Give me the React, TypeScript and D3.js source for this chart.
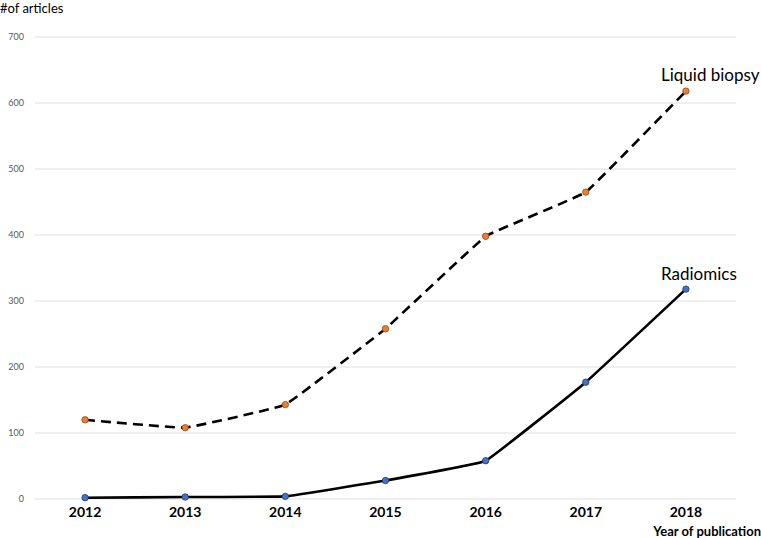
import React from 'react'
import * as d3 from 'd3'

const years = ['2012', '2013', '2014', '2015', '2016', '2017', '2018']
const liquidBiopsy = [120, 108, 143, 258, 398, 465, 618]
const radiomics = [2, 3, 4, 28, 58, 177, 318]
const yTicks = [0, 100, 200, 300, 400, 500, 600, 700]

const W = 761
const H = 538
const font = 'Lato, "Open Sans", sans-serif'

export default function App() {
  const x = d3.scaleBand().domain(years).range([35, 736])
  const y = d3.scaleLinear().domain([0, 700]).range([499, 37])
  const cx = (d: string) => (x(d) as number) + x.bandwidth() / 2

  // the original lines are only lightly smoothed, straight segments read closer
  const line = d3
    .line<number>()
    .x((_, i) => cx(years[i]))
    .y(d => y(d))
    .curve(d3.curveCardinal.tension(0.8))

  return (
    <svg width={W} height={H} style={{ position: 'absolute', left: 0, top: 0, background: '#fff' }}>
      {yTicks.map(t => (
        <g key={t}>
          <line x1={35} x2={736} y1={y(t)} y2={y(t)} stroke="#e0e0e0" strokeWidth={1} />
          <text x={24} y={y(t)} dy="0.35em" textAnchor="end" fontSize={9} fill="#595959" fontFamily={font}>
            {t}
          </text>
        </g>
      ))}
      {years.map(yr => (
        <text key={yr} x={cx(yr)} y={517} textAnchor="middle" fontSize={14} fontWeight="bold" fill="#000" fontFamily={font}>
          {yr}
        </text>
      ))}
      <text x={0} y={13} fontSize={13} fontFamily={font} fill="#000">#of articles</text>
      <text x={761} y={536} textAnchor="end" fontSize={13} fontWeight="bold" fontFamily={font} fill="#000">
        Year of publication
      </text>

      <path d={line(liquidBiopsy) || ''} fill="none" stroke="#000" strokeWidth={2.6} strokeDasharray="10,6" />
      <path d={line(radiomics) || ''} fill="none" stroke="#000" strokeWidth={2.6} />

      {liquidBiopsy.map((v, i) => (
        <circle key={'l' + i} cx={cx(years[i])} cy={y(v)} r={3.2} fill="#ED7D31" stroke="#8a4a1c" strokeWidth={0.8} />
      ))}
      {radiomics.map((v, i) => (
        <circle key={'r' + i} cx={cx(years[i])} cy={y(v)} r={3.2} fill="#4472C4" stroke="#1f3864" strokeWidth={0.8} />
      ))}

      <text x={661} y={81} fontSize={17} fontFamily={font} fill="#000">Liquid biopsy</text>
      <text x={661} y={280} fontSize={17} fontFamily={font} fill="#000">Radiomics</text>
    </svg>
  )
}
